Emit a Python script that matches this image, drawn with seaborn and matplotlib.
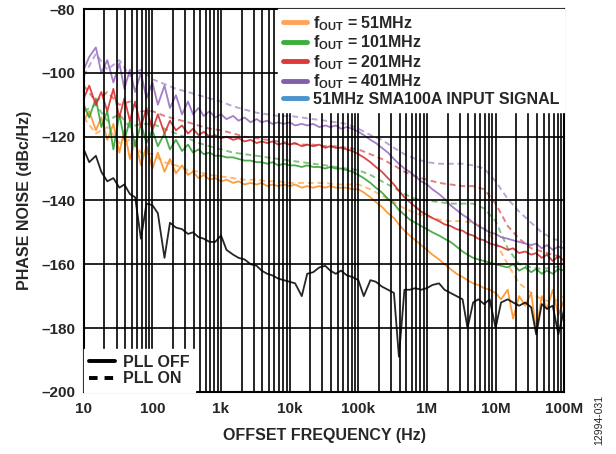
import matplotlib
matplotlib.use("Agg")
import matplotlib.pyplot as plt
from matplotlib.lines import Line2D
from matplotlib.ticker import FixedLocator, FixedFormatter, LogLocator, NullFormatter
import pandas as pd
import seaborn as sns

# offset frequency grid for PLL OFF traces (Hz)
freq = [
    10, 12, 15, 18, 22, 27, 33, 39, 47, 56, 68, 82,
    100, 120, 150, 180, 220, 270, 330, 390, 470, 560, 680, 820,
    1e3, 1.2e3, 1.5e3, 1.8e3, 2.2e3, 2.7e3, 3.3e3, 3.9e3, 4.7e3, 5.6e3, 6.8e3, 8.2e3,
    1e4, 1.2e4, 1.5e4, 1.8e4, 2.2e4, 2.7e4, 3.3e4, 3.9e4, 4.7e4, 5.6e4, 6.8e4, 8.2e4,
    1e5, 1.2e5, 1.5e5, 1.8e5, 2.2e5, 2.7e5, 3.3e5, 3.9e5, 4.7e5, 5.6e5, 6.8e5, 8.2e5,
    1e6, 1.2e6, 1.5e6, 1.8e6, 2.2e6, 2.7e6, 3.3e6, 3.9e6, 4.7e6, 5.6e6, 6.8e6, 8.2e6,
    1e7, 1.2e7, 1.5e7, 1.8e7, 2.2e7, 2.7e7, 3.3e7, 3.9e7, 4.7e7, 5.6e7, 6.8e7, 8.2e7,
    1e8]

# offset frequency grid for PLL ON traces (Hz)
freq_on = [
    10, 15, 22, 33, 47, 68,
    100, 150, 220, 330, 470, 680,
    1e3, 1.5e3, 2.2e3, 3.3e3, 4.7e3, 6.8e3,
    1e4, 1.5e4, 2.2e4, 3.3e4, 4.7e4, 6.8e4,
    1e5, 1.5e5, 2.2e5, 3.3e5, 4.7e5, 6.8e5,
    1e6, 1.5e6, 2.2e6, 3.3e6, 4.7e6, 6.8e6,
    1e7, 1.5e7, 2.2e7, 3.3e7, 4.7e7, 6.8e7,
    1e8]

# phase noise, PLL OFF (dBc/Hz)
off_51 = [
    -115, -112, -118, -114, -121, -116, -125, -118, -127, -121, -129, -123,
    -130, -125, -131, -127, -131.5, -129, -132, -131, -133, -132, -133.5, -133,
    -134, -133.5, -134.5, -134, -135, -134.5, -135, -134.5, -135.5, -135, -135.5, -135,
    -135.5, -135, -136, -135.5, -136, -135.5, -136, -135.5, -136, -136, -136, -136.5,
    -136.5, -137.5, -139, -140.5, -142, -144, -145.5, -147.5, -149.5, -151, -152.5, -154,
    -155.5, -157, -158.5, -160, -161.5, -163, -164, -165, -166, -166.5, -167.5, -168,
    -169, -171, -168, -177, -170, -173, -169, -181, -170, -174, -168, -176,
    -171]
off_101 = [
    -110, -114, -108, -117, -112, -124, -113, -121, -115, -123, -116, -122,
    -118, -123, -119, -124, -121, -124.5, -122.5, -125, -124, -125.5, -125, -126,
    -126, -126.5, -126.5, -127, -127.5, -127.5, -128, -128, -128.5, -128, -129, -128.5,
    -129, -129, -129.5, -129, -129.5, -129.5, -130, -129.5, -130, -130, -130.5, -131,
    -132, -133, -134.5, -136, -137.5, -139.5, -141, -143, -144.5, -146, -147, -148,
    -149, -150, -151, -152, -153, -154.5, -156, -157, -158, -158.5, -159, -159.5,
    -160, -160.5, -161, -160, -162, -161, -162.5, -161.5, -163, -162, -163, -161.5,
    -162]
off_201 = [
    -108, -104, -110, -106, -112, -105, -114, -108, -115, -109, -117, -111,
    -118, -113, -119, -115, -118, -116.5, -119, -117.5, -119.5, -118.5, -120, -119.5,
    -120.5, -120, -121, -120.5, -121.5, -121, -122, -121.5, -122, -121.5, -122.5, -122,
    -122.5, -122, -123, -122.5, -123, -122.5, -123.5, -123, -123.5, -123.5, -124, -124.5,
    -125.5, -126.5, -128, -129.5, -131, -133, -135, -137, -139, -140.5, -142, -143.5,
    -144.5, -145.5, -146.5, -147.5, -148, -149, -149.5, -150.5, -151, -152, -152.5, -153.5,
    -154, -154.5, -155.5, -155, -156.5, -156, -157, -156.5, -158, -157, -159, -157.5,
    -159]
off_401 = [
    -99, -95, -92, -100, -96, -103, -97, -105, -99, -106, -100, -108,
    -103, -110, -104, -111, -107, -113, -109, -113, -111, -113.5, -112, -114,
    -113, -114.5, -113.5, -115, -114, -115.5, -114.5, -115.5, -115, -116, -115.5, -116,
    -115.5, -116.5, -116, -116.5, -116, -117, -116.5, -117, -116.5, -117.5, -117, -117.5,
    -118.5, -119.5, -121, -122, -123.5, -125, -127, -128.5, -130, -131, -132.5, -134,
    -135, -136.5, -138, -139.5, -141.5, -143, -144.5, -145.5, -147, -148, -149, -150,
    -150.5, -151.5, -152, -152.5, -153, -153.5, -154, -153.5, -155, -154, -155.5, -154.5,
    -155]
input_51 = [
    -124, -128, -126, -131, -134, -133, -136, -135, -138, -139, -152, -141,
    -141.5, -144, -158, -147, -148.5, -149, -150.5, -150, -151.5, -152, -153, -153,
    -151, -155.5, -157, -158, -158.5, -160, -160.5, -162, -163, -163.5, -164.5, -165,
    -165.5, -166, -170, -163, -162.5, -161, -160.5, -162, -163, -162, -163.5, -164,
    -165, -170, -165, -165.5, -167, -168, -169, -189, -168, -168, -167.5, -168,
    -167.5, -166.5, -166, -168, -169, -170, -171, -180, -172, -171, -172.5, -171,
    -180, -172, -171, -172, -173, -172, -173.5, -182, -172.5, -174, -173, -182,
    -174]

# phase noise, PLL ON (dBc/Hz)
on_51 = [
    -114, -119, -117, -122, -121, -125,
    -125.5, -128, -129, -130.5, -131, -132,
    -132.5, -133, -133.5, -133.5, -134, -134,
    -134.5, -134.5, -134.5, -134.5, -135, -135,
    -135, -136.5, -138.5, -140.5, -142.5, -144,
    -145, -146, -146.5, -146.5, -147, -148.5,
    -153, -160, -166, -169, -171, -172,
    -170]
on_101 = [
    -112, -110, -115, -113, -117, -116,
    -116, -117.5, -119, -120.5, -122, -123,
    -124, -125, -125.5, -126, -126.5, -127,
    -127.5, -128, -128.5, -129, -129.5, -130,
    -130.5, -132, -134, -136, -138, -139.5,
    -140, -140.5, -141, -141, -141, -142.5,
    -146.5, -155, -160, -161, -161.5, -161,
    -160.5]
on_201 = [
    -104, -109, -106, -110, -109, -112,
    -112, -113.5, -114.5, -115.5, -116.5, -117.5,
    -118, -119, -120, -120.5, -121, -121.5,
    -122, -122.5, -122.5, -123, -123, -123.5,
    -124, -125.5, -127, -129, -131, -132.5,
    -133.5, -134.5, -135, -135.5, -135.5, -136.5,
    -141, -148, -152, -155, -156, -157,
    -158]
on_401 = [
    -101, -94, -99, -96, -101, -99,
    -102, -103.5, -105, -106, -107, -108,
    -109, -110.5, -111.5, -112.5, -113, -113.5,
    -113.5, -114, -114.5, -115, -115.5, -116,
    -117.5, -119.5, -121, -123.5, -125.5, -127,
    -128, -128.5, -128.5, -128.5, -129, -130,
    -134, -139.5, -143.5, -147, -150, -152,
    -153]

signals = ['51MHz', '101MHz', '201MHz', '401MHz', 'SMA100A']
legend_labels = [r'$\mathbf{f_{OUT}}$ = 51MHz', r'$\mathbf{f_{OUT}}$ = 101MHz',
                 r'$\mathbf{f_{OUT}}$ = 201MHz', r'$\mathbf{f_{OUT}}$ = 401MHz',
                 '51MHz SMA100A INPUT SIGNAL']
x_ticks = [10, 100, 1e3, 1e4, 1e5, 1e6, 1e7, 1e8]
x_labels = ['10', '100', '1k', '10k', '100k', '1M', '10M', '100M']
y_ticks = [-200, -180, -160, -140, -120, -100, -80]
y_labels = ['–200', '–180', '–160', '–140', '–120', '–100', '–80']

line_colors = {'51MHz': '#ff8c1a', '101MHz': '#2ca02c', '201MHz': '#d62728',
               '401MHz': '#9467bd', 'SMA100A': '#000000'}
swatch_colors = ['#ffa35a', '#3cae3c', '#dd3a3a', '#8060a8', '#4a94cc']

off_df = pd.concat([pd.DataFrame({'freq': freq, 'pn': v, 'signal': s})
                    for s, v in zip(signals, [off_51, off_101, off_201, off_401, input_51])])
on_df = pd.concat([pd.DataFrame({'freq': freq_on, 'pn': v, 'signal': s})
                   for s, v in zip(signals[:4], [on_51, on_101, on_201, on_401])])

sns.set_style("white")
plt.rcParams['font.family'] = ['Liberation Sans', 'DejaVu Sans']
plt.rcParams['font.weight'] = 'bold'
plt.rcParams['mathtext.fontset'] = 'custom'
plt.rcParams['mathtext.bf'] = 'Liberation Sans:bold'
plt.rcParams['mathtext.rm'] = 'Liberation Sans:bold'

fig = plt.figure(figsize=(6.16, 4.54), dpi=100)
ax = fig.add_axes([0.136, 0.137, 0.780, 0.843])

sns.lineplot(data=on_df, x='freq', y='pn', hue='signal', palette=line_colors,
             estimator=None, sort=False, lw=1.4, alpha=0.6,
             linestyle=(0, (3, 2)), legend=False, ax=ax)
sns.lineplot(data=off_df, x='freq', y='pn', hue='signal', palette=line_colors,
             estimator=None, sort=False, lw=1.3, alpha=0.85, legend=False, ax=ax)

ax.set_xscale('log')
ax.set_xlim(10, 1e8)
ax.set_ylim(-200, -80)
ax.xaxis.set_major_locator(FixedLocator(x_ticks))
ax.xaxis.set_major_formatter(FixedFormatter(x_labels))
ax.xaxis.set_minor_locator(LogLocator(base=10, subs=range(2, 10)))
ax.xaxis.set_minor_formatter(NullFormatter())
ax.yaxis.set_major_locator(FixedLocator(y_ticks))
ax.yaxis.set_major_formatter(FixedFormatter(y_labels))

ax.set_axisbelow(False)
ax.grid(which='both', axis='x', color='black', lw=1.2)
ax.grid(which='major', axis='y', color='black', lw=1.2)
ax.tick_params(which='both', length=0, labelsize=11)
ax.tick_params(axis='x', pad=7)
ax.tick_params(axis='y', pad=6)
for sp in ax.spines.values():
    sp.set_color('black')
    sp.set_linewidth(1.5)

ax.set_xlabel('OFFSET FREQUENCY (Hz)', fontsize=11.5, fontweight='bold')
ax.set_ylabel('PHASE NOISE (dBc/Hz)', fontsize=11.5, fontweight='bold')
ax.xaxis.set_label_coords(0.5, -0.095)
ax.yaxis.set_label_coords(-0.108, 0.5)

h1 = [Line2D([], [], color=c, lw=3.5) for c in swatch_colors]
leg1 = ax.legend(h1, legend_labels, loc='upper right', bbox_to_anchor=(1, 1),
                 borderaxespad=0, frameon=True, fancybox=False, framealpha=1,
                 facecolor='white', edgecolor='white', handlelength=1.5,
                 handletextpad=0.4, labelspacing=0.05, borderpad=0.3,
                 prop={'weight': 'bold', 'size': 11.5})
leg1.set_zorder(10)
ax.add_artist(leg1)

h2 = [Line2D([], [], color='black', lw=2.8),
      Line2D([], [], color='black', lw=2.8, linestyle=(0, (2.2, 1.8)))]
leg2 = ax.legend(h2, ['PLL OFF', 'PLL ON'], loc='lower left', bbox_to_anchor=(0, 0),
                 borderaxespad=0, frameon=True, fancybox=False, framealpha=1,
                 facecolor='white', edgecolor='white', handlelength=1.6,
                 handletextpad=0.5, labelspacing=0.1, borderpad=0.35,
                 prop={'weight': 'bold', 'size': 11.5})
leg2.set_zorder(10)

fig.text(0.973, 0.02, '12994-031', rotation=90, fontsize=7.5, fontweight='normal',
         ha='center', va='bottom')

fig.savefig('out.png', dpi=100)
